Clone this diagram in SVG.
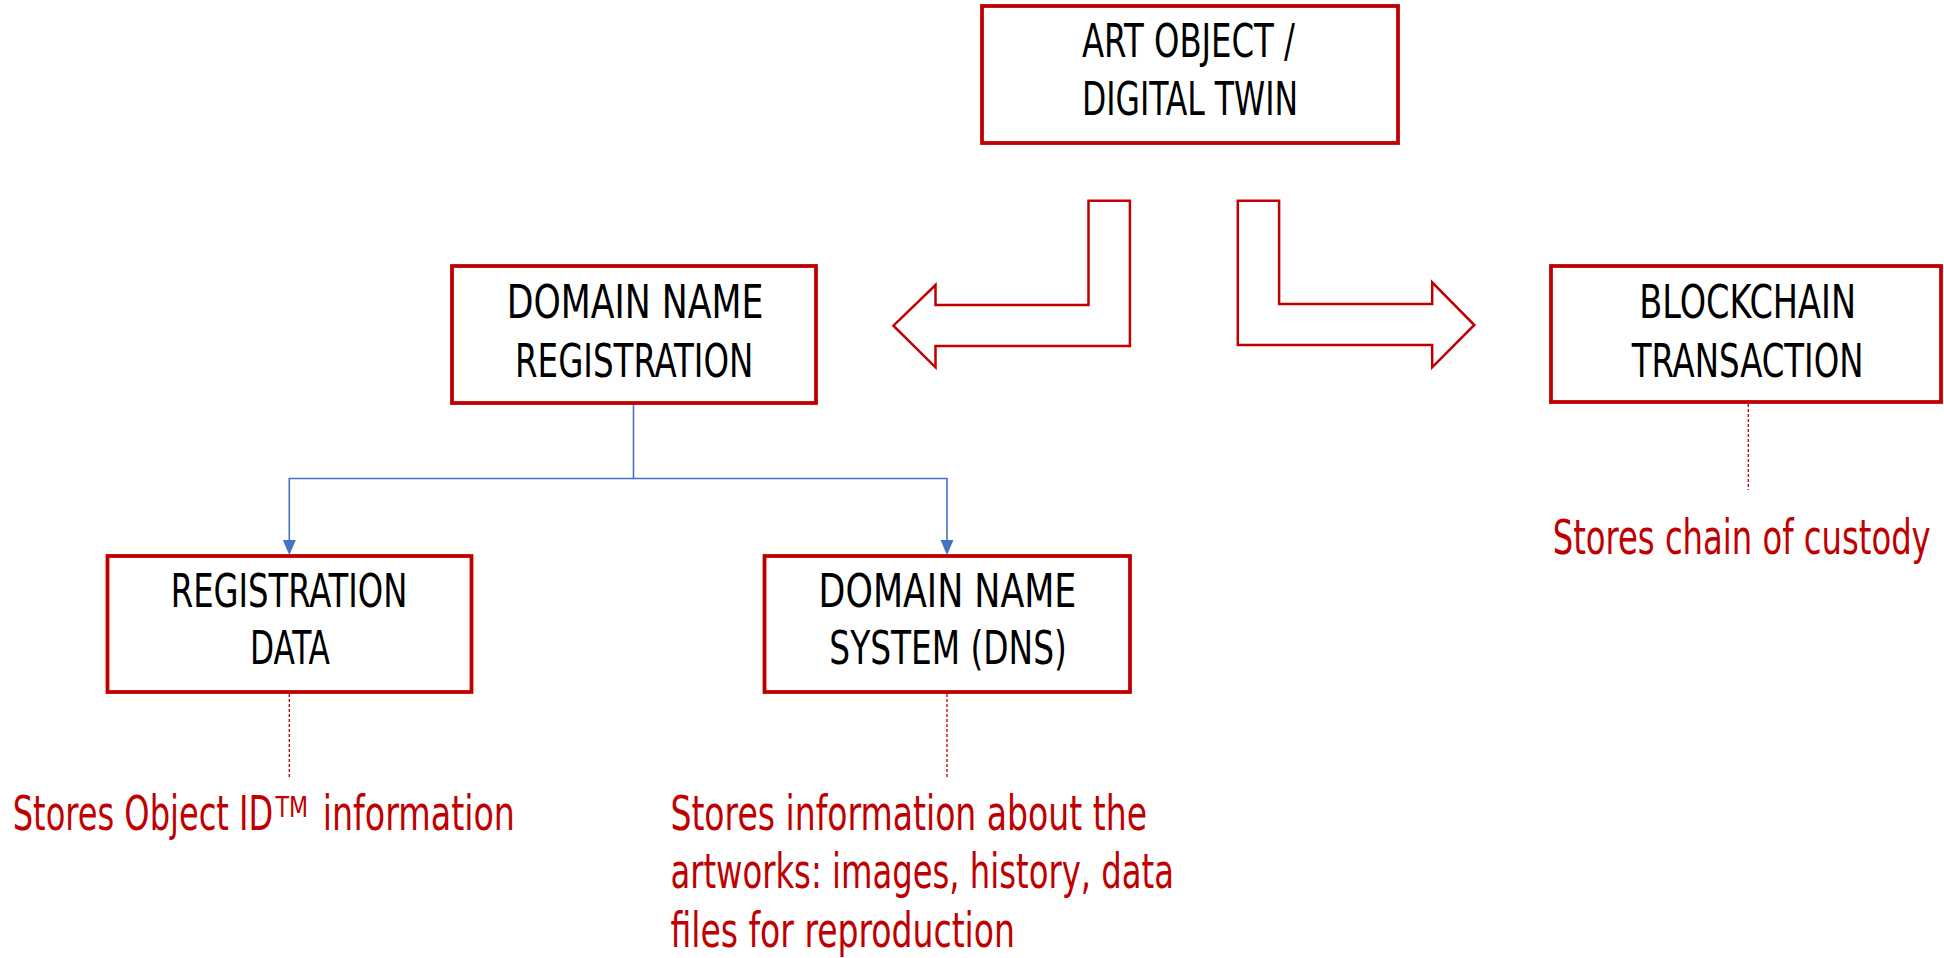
<svg xmlns="http://www.w3.org/2000/svg" width="1944" height="958" viewBox="0 0 1944 958">
<style>
.box{fill:#fff;stroke:#C00000;stroke-width:3.8}
.bt{font-family:"Liberation Sans Narrow","DejaVu Sans Condensed","Liberation Sans",Arial,sans-serif;font-size:47px;fill:#000}
.ann{font-family:"Liberation Sans Narrow","DejaVu Sans Condensed","Liberation Sans",Arial,sans-serif;font-size:48px;fill:#C00000}
.bigarrow{fill:#fff;stroke:#C00000;stroke-width:2.5;stroke-linejoin:miter}
.blue{fill:none;stroke:#4472C4;stroke-width:1.6}
.dash{fill:none;stroke:#C00000;stroke-width:1.3;stroke-dasharray:3 2}
</style>
<rect width="1944" height="958" fill="#fff"/>

<g id="connectors">
<polygon class="bigarrow" points="1129.9,200.7 1088.5,200.7 1088.5,305 935.5,305 935.5,285 893.4,325.7 935.5,367.3 935.5,346 1129.9,346"/>
<polygon class="bigarrow" points="1237.8,200.7 1279.1,200.7 1279.1,304 1432.2,304 1432.2,282.3 1474.3,325 1432.2,367.3 1432.2,345 1237.8,345"/>
<path class="blue" d="M633.5,404 V478.5 H289.3 V542"/>
<path class="blue" d="M633.5,478.5 H947 V542"/>
<polygon points="282.8,540 295.8,540 289.3,555" fill="#4472C4"/>
<polygon points="940.5,540 953.5,540 947,555" fill="#4472C4"/>
<line class="dash" x1="1748.3" y1="404" x2="1748.3" y2="490"/>
<line class="dash" x1="289.3" y1="694" x2="289.3" y2="778"/>
<line class="dash" x1="947" y1="694" x2="947" y2="778"/>
</g>

<g id="art-object">
<rect class="box" x="982" y="6" width="416" height="137"/>
<text class="bt" x="1082" y="57" textLength="213" lengthAdjust="spacingAndGlyphs">ART OBJECT /</text>
<text class="bt" x="1082" y="115" textLength="216" lengthAdjust="spacingAndGlyphs">DIGITAL TWIN</text>
</g>

<g id="domain-name-registration">
<rect class="box" x="452" y="266" width="364" height="137"/>
<text class="bt" x="506.7" y="318.3" textLength="256.7" lengthAdjust="spacingAndGlyphs">DOMAIN NAME</text>
<text class="bt" x="515" y="376.7" textLength="238.3" lengthAdjust="spacingAndGlyphs">REGISTRATION</text>
</g>

<g id="blockchain-transaction">
<rect class="box" x="1551" y="266" width="390" height="136"/>
<text class="bt" x="1639.3" y="318.3" textLength="216.7" lengthAdjust="spacingAndGlyphs">BLOCKCHAIN</text>
<text class="bt" x="1631.7" y="376.7" textLength="231.7" lengthAdjust="spacingAndGlyphs">TRANSACTION</text>
</g>

<g id="registration-data">
<rect class="box" x="107.5" y="556" width="364" height="136"/>
<text class="bt" x="170.7" y="606.7" textLength="236.7" lengthAdjust="spacingAndGlyphs">REGISTRATION</text>
<text class="bt" x="250" y="664" textLength="80" lengthAdjust="spacingAndGlyphs">DATA</text>
</g>

<g id="dns">
<rect class="box" x="764.5" y="556" width="365.5" height="136"/>
<text class="bt" x="818.6" y="606.7" textLength="257.8" lengthAdjust="spacingAndGlyphs">DOMAIN NAME</text>
<text class="bt" x="829.3" y="664" textLength="237.5" lengthAdjust="spacingAndGlyphs">SYSTEM (DNS)</text>
</g>

<g id="notes">
<text class="ann" x="1552.7" y="554" textLength="378" lengthAdjust="spacingAndGlyphs">Stores chain of custody</text>
<text class="ann" x="12.7" y="830"><tspan textLength="260.6" lengthAdjust="spacingAndGlyphs">Stores Object ID</tspan><tspan x="275.5" y="816.5" style="font-size:28px" textLength="32.5" lengthAdjust="spacingAndGlyphs">TM</tspan><tspan x="322.7" y="830" textLength="192.3" lengthAdjust="spacingAndGlyphs">information</tspan></text>
<text class="ann" x="670.4" y="830" textLength="476.7" lengthAdjust="spacingAndGlyphs">Stores information about the</text>
<text class="ann" x="670.4" y="888.3" textLength="503.5" lengthAdjust="spacingAndGlyphs">artworks: images, history, data</text>
<text class="ann" x="670.4" y="946.7" textLength="344.6" lengthAdjust="spacingAndGlyphs">files for reproduction</text>
</g>
</svg>
